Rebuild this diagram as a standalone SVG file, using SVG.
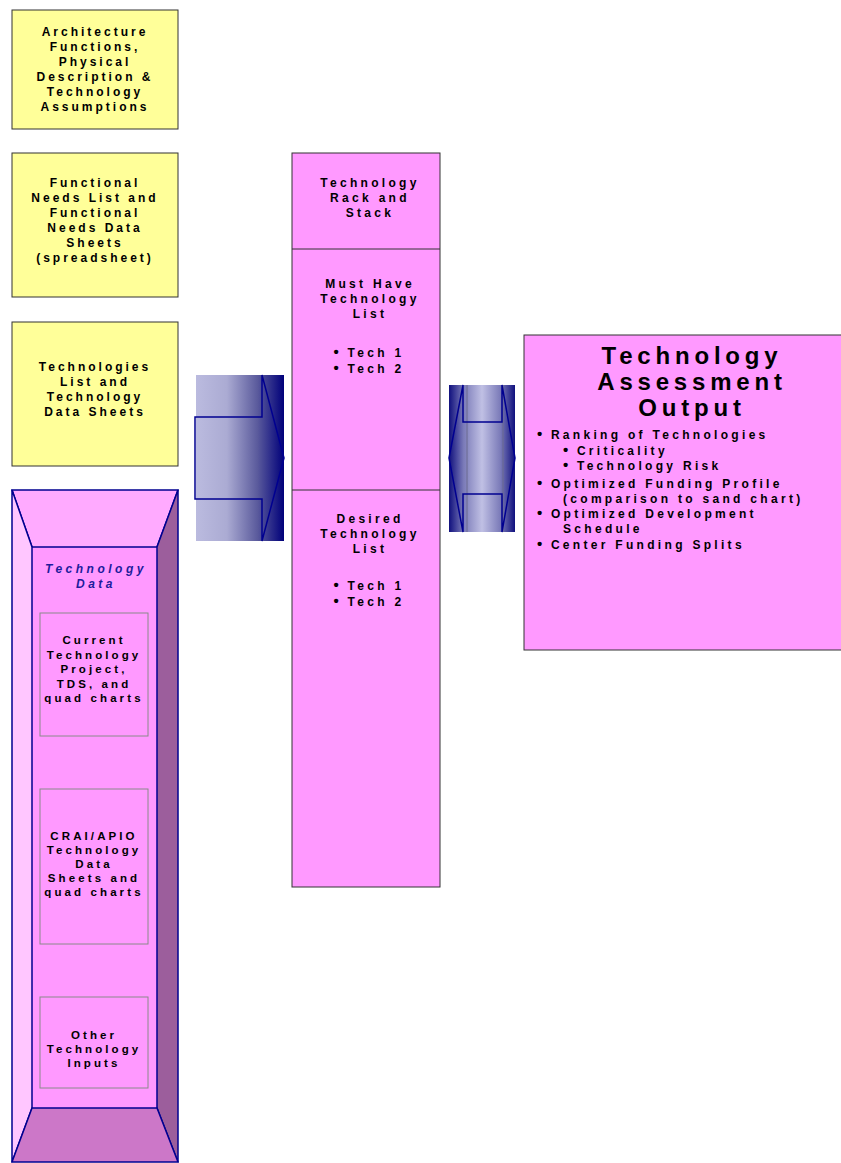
<svg xmlns="http://www.w3.org/2000/svg" width="841" height="1163" viewBox="0 0 841 1163">
<defs>
<linearGradient id="g1" x1="0" y1="0" x2="1" y2="0">
<stop offset="0" stop-color="#BBBBDF"/>
<stop offset="0.35" stop-color="#ABABD3"/>
<stop offset="0.7" stop-color="#5A5A9C"/>
<stop offset="1" stop-color="#00007A"/>
</linearGradient>
<linearGradient id="g2" x1="0" y1="0" x2="1" y2="0">
<stop offset="0" stop-color="#10107E"/>
<stop offset="0.22" stop-color="#7A7AB8"/>
<stop offset="0.5" stop-color="#C0C0E4"/>
<stop offset="0.78" stop-color="#7A7AB8"/>
<stop offset="1" stop-color="#10107E"/>
</linearGradient>
<style>
.t{font-family:"Liberation Sans",Arial,sans-serif;font-weight:bold;font-size:12px;letter-spacing:3px;fill:#000;text-anchor:middle}
.m{letter-spacing:3.3px}
.s{font-size:11.5px;letter-spacing:3.1px}
.l{text-anchor:start;letter-spacing:3.3px}
.ttl{font-size:24px;letter-spacing:4.8px}
.it{font-style:italic;fill:#1C1C9C;letter-spacing:3.5px}
.b{font-size:15px;letter-spacing:2px}
.yb{fill:#FFFF99;stroke:#333;stroke-width:1}
.pb{fill:#FF99FF;stroke:#333;stroke-width:1}
.ib{fill:none;stroke:#8A8A8A;stroke-width:1}
.nv{stroke:#000090;stroke-width:1.5;stroke-linejoin:miter}
</style>
</defs>
<rect width="841" height="1163" fill="#fff"/>

<g id="node-architecture">
<rect class="yb" x="12" y="10" width="166" height="119"/>
<text class="t" x="95" y="35.5">Architecture</text>
<text class="t" x="95" y="50.5">Functions,</text>
<text class="t" x="95" y="65.5">Physical</text>
<text class="t" x="95" y="80.5">Description &amp;</text>
<text class="t" x="95" y="95.5">Technology</text>
<text class="t" x="95" y="110.5">Assumptions</text>
</g>

<g id="node-functional-needs">
<rect class="yb" x="12" y="153" width="166" height="144"/>
<text class="t" x="95" y="186.5">Functional</text>
<text class="t" x="95" y="201.5">Needs List and</text>
<text class="t" x="95" y="216.5">Functional</text>
<text class="t" x="95" y="231.5">Needs Data</text>
<text class="t" x="95" y="246.5">Sheets</text>
<text class="t" x="95" y="261.5">(spreadsheet)</text>
</g>

<g id="node-technologies-list">
<rect class="yb" x="12" y="322" width="166" height="144"/>
<text class="t" x="95" y="370.5">Technologies</text>
<text class="t" x="95" y="385.8">List and</text>
<text class="t" x="95" y="401">Technology</text>
<text class="t" x="95" y="416.3">Data Sheets</text>
</g>

<g id="node-technology-data">
<polygon points="32,547 157,547 157,1108 32,1108" fill="#FF99FF"/>
<polygon class="nv" points="12,490 178,490 157,547 32,547" fill="#FFAAFF"/>
<polygon class="nv" points="12,490 32,547 32,1108 12,1162" fill="#FFC6FF"/>
<polygon class="nv" points="178,490 157,547 157,1108 178,1162" fill="#9C5E9C"/>
<polygon class="nv" points="32,1108 157,1108 178,1162 12,1162" fill="#CC77C8"/>
<text class="t it" x="96" y="572.7">Technology</text>
<text class="t it" x="96" y="588">Data</text>
<g id="node-current-technology">
<rect class="ib" x="40" y="613" width="108" height="123"/>
<text class="t s" x="94" y="644">Current</text>
<text class="t s" x="94" y="658.5">Technology</text>
<text class="t s" x="94" y="673">Project,</text>
<text class="t s" x="94" y="687.5">TDS, and</text>
<text class="t s" x="94" y="702">quad charts</text>
</g>
<g id="node-crai-apio">
<rect class="ib" x="40" y="789" width="108" height="155"/>
<text class="t s" x="94" y="840">CRAI/APIO</text>
<text class="t s" x="94" y="854">Technology</text>
<text class="t s" x="94" y="868">Data</text>
<text class="t s" x="94" y="882">Sheets and</text>
<text class="t s" x="94" y="896">quad charts</text>
</g>
<g id="node-other-inputs">
<rect class="ib" x="40" y="997" width="108" height="91"/>
<text class="t s" x="94" y="1038.5">Other</text>
<text class="t s" x="94" y="1052.5">Technology</text>
<text class="t s" x="94" y="1066.5">Inputs</text>
</g>
</g>

<g id="node-rack-and-stack">
<rect class="pb" x="292" y="153" width="148" height="734"/>
<line x1="292" y1="249" x2="440" y2="249" stroke="#333" stroke-width="1"/>
<line x1="292" y1="490" x2="440" y2="490" stroke="#333" stroke-width="1"/>
<text class="t m" x="370" y="186.5">Technology</text>
<text class="t m" x="370" y="201.5">Rack and</text>
<text class="t m" x="370" y="216.5">Stack</text>
<text class="t m" x="370" y="288">Must Have</text>
<text class="t m" x="370" y="303">Technology</text>
<text class="t m" x="370" y="318">List</text>
<text class="t m" x="369" y="356.5"><tspan class="b">•</tspan> Tech 1</text>
<text class="t m" x="369" y="372.5"><tspan class="b">•</tspan> Tech 2</text>
<text class="t m" x="370" y="522.5">Desired</text>
<text class="t m" x="370" y="537.5">Technology</text>
<text class="t m" x="370" y="552.5">List</text>
<text class="t m" x="369" y="590"><tspan class="b">•</tspan> Tech 1</text>
<text class="t m" x="369" y="606"><tspan class="b">•</tspan> Tech 2</text>
</g>

<g id="node-assessment-output">
<rect class="pb" x="524" y="335" width="320" height="315"/>
<text class="t ttl" x="692" y="363.5">Technology</text>
<text class="t ttl" x="692" y="389.5">Assessment</text>
<text class="t ttl" x="692" y="415.5">Output</text>
<text class="t l" x="537" y="439"><tspan class="b">•</tspan> Ranking of Technologies</text>
<text class="t l" x="563" y="454.5"><tspan class="b">•</tspan> Criticality</text>
<text class="t l" x="563" y="470"><tspan class="b">•</tspan> Technology Risk</text>
<text class="t l" x="537" y="487.5"><tspan class="b">•</tspan> Optimized Funding Profile</text>
<text class="t l" x="563" y="502.5">(comparison to sand chart)</text>
<text class="t l" x="537" y="518"><tspan class="b">•</tspan> Optimized Development</text>
<text class="t l" x="563" y="533">Schedule</text>
<text class="t l" x="537" y="548.7"><tspan class="b">•</tspan> Center Funding Splits</text>
</g>

<g id="connectors">
<g id="arrow-inputs">
<rect x="196" y="375" width="88" height="166" fill="url(#g1)"/>
<polygon class="nv" fill="none" points="195,417 262,417 262,375 284,458 262,541 262,499 195,499"/>
</g>
<g id="arrow-double">
<rect x="449" y="385" width="66" height="147" fill="url(#g2)"/>
<line x1="467" y1="385" x2="467" y2="532" stroke="#6A6A90" stroke-width="1"/>
<line x1="503" y1="385" x2="503" y2="532" stroke="#6A6A90" stroke-width="1"/>
<polygon class="nv" fill="none" points="449,458 463,385 463,422 502,422 502,385 515,458 502,532 502,494 463,494 463,532"/>
</g>
</g>
</svg>
